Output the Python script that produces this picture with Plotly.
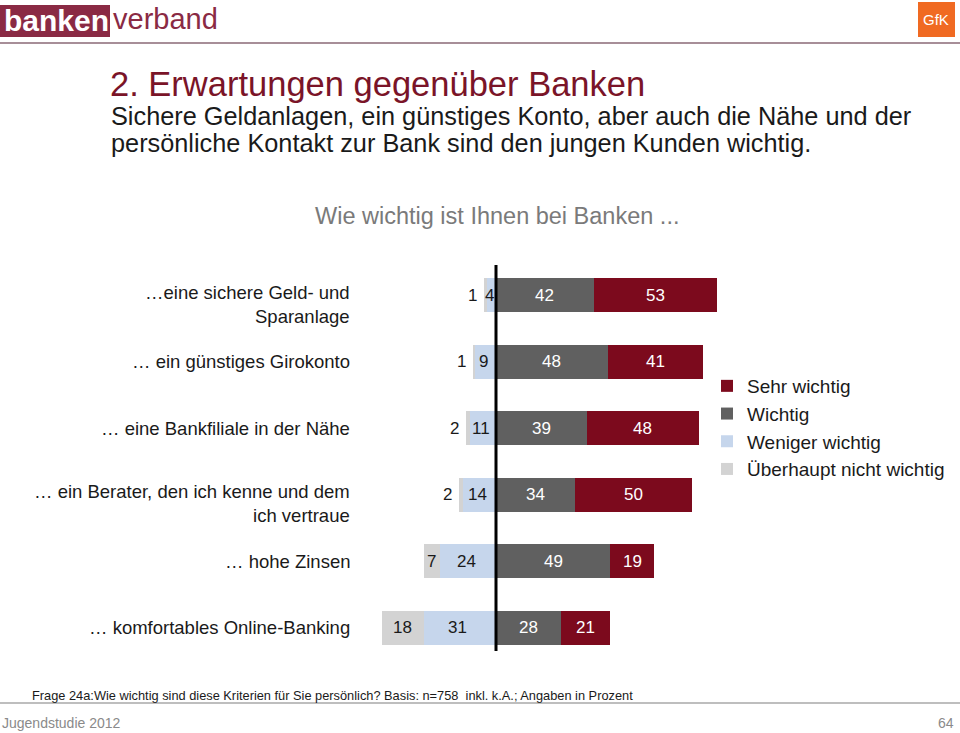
import plotly.graph_objects as go

# ---------------- data ----------------
categories = [
    "…eine sichere Geld- und<br>Sparanlage",
    "… ein günstiges Girokonto",
    "… eine Bankfiliale in der Nähe",
    "… ein Berater, den ich kenne und dem<br>ich vertraue",
    "… hohe Zinsen",
    "… komfortables Online-Banking",
]
ueberhaupt_nicht = [1, 1, 2, 2, 7, 18]
weniger_wichtig = [4, 9, 11, 14, 24, 31]
wichtig = [42, 48, 39, 34, 49, 28]
sehr_wichtig = [53, 41, 48, 50, 19, 21]
series_names = ["Sehr wichtig", "Wichtig", "Weniger wichtig", "Überhaupt nicht wichtig"]

# ---------------- style ----------------
W, H = 960, 733
FONT = "Liberation Sans"
C_SEHR = "#7c0a1d"
C_WICHTIG = "#606060"
C_WENIGER = "#c6d6ec"
C_UEBER = "#d3d3d3"
C_BRAND = "#8a2a44"

center_px = 496.0
px_per_unit = 2.33
row0_py = 295.0
row_step = 66.54


def px(x):
    return x / W


def py(y):
    return 1 - y / H


fig = go.Figure()

neg_w = [-v for v in weniger_wichtig]
neg_u = [-v for v in ueberhaupt_nicht]

fig.add_trace(go.Bar(y=categories, x=neg_w, orientation="h", name=series_names[2],
                     marker=dict(color=C_WENIGER, line=dict(width=0)), width=0.51,
                     legendrank=3, hoverinfo="skip"))
fig.add_trace(go.Bar(y=categories, x=neg_u, orientation="h", name=series_names[3],
                     marker=dict(color=C_UEBER, line=dict(width=0)), width=0.51,
                     legendrank=4, hoverinfo="skip"))
fig.add_trace(go.Bar(y=categories, x=wichtig, orientation="h", name=series_names[1],
                     marker=dict(color=C_WICHTIG, line=dict(width=0)), width=0.51,
                     legendrank=2, hoverinfo="skip"))
fig.add_trace(go.Bar(y=categories, x=sehr_wichtig, orientation="h", name=series_names[0],
                     marker=dict(color=C_SEHR, line=dict(width=0)), width=0.51,
                     legendrank=1, hoverinfo="skip"))

ann = []
lab_font = dict(family=FONT, size=17)
for i, cat in enumerate(categories):
    w, u, wi, s = weniger_wichtig[i], ueberhaupt_nicht[i], wichtig[i], sehr_wichtig[i]
    ann.append(dict(x=wi / 2, y=cat, xref="x", yref="y", text=str(wi), showarrow=False,
                    font=dict(lab_font, color="white")))
    ann.append(dict(x=wi + s / 2, y=cat, xref="x", yref="y", text=str(s), showarrow=False,
                    font=dict(lab_font, color="white")))
    ann.append(dict(x=-w / 2, y=cat, xref="x", yref="y", text=str(w), showarrow=False,
                    xshift=-2, font=dict(lab_font, color="#1a1a1a")))
    if u < 4:
        ann.append(dict(x=-(w + u), y=cat, xref="x", yref="y", text=str(u), showarrow=False,
                        xanchor="right", xshift=-5, font=dict(lab_font, color="#1a1a1a")))
    else:
        ann.append(dict(x=-(w + u / 2), y=cat, xref="x", yref="y", text=str(u), showarrow=False,
                        font=dict(lab_font, color="#1a1a1a")))
    yshift = -9 if "<br>" in cat else 0
    ann.append(dict(x=px(352), y=cat, xref="paper", yref="y", text=cat, showarrow=False,
                    xanchor="right", align="right", yshift=yshift,
                    font=dict(family=FONT, size=18.5, color="#1a1a1a")))

ann += [
    dict(x=px(2), y=py(21), xref="paper", yref="paper", text="<b>banken</b>", showarrow=False,
         xanchor="left", yanchor="middle", font=dict(family=FONT, size=30, color="white")),
    dict(x=px(111), y=py(19), xref="paper", yref="paper", text="verband", showarrow=False,
         xanchor="left", yanchor="middle", font=dict(family=FONT, size=29, color=C_BRAND)),
    dict(x=px(936), y=py(20), xref="paper", yref="paper", text="GfK", showarrow=False,
         xanchor="center", yanchor="middle", font=dict(family=FONT, size=15, color="white")),
    dict(x=px(108), y=py(84), xref="paper", yref="paper", text="2. Erwartungen gegenüber Banken",
         showarrow=False, xanchor="left", yanchor="middle",
         font=dict(family=FONT, size=34.5, color="#7a1428")),
    dict(x=px(109), y=py(116), xref="paper", yref="paper",
         text="Sichere Geldanlagen, ein günstiges Konto, aber auch die Nähe und der",
         showarrow=False, xanchor="left", yanchor="middle",
         font=dict(family=FONT, size=25.3, color="#1a1a1a")),
    dict(x=px(109), y=py(143), xref="paper", yref="paper",
         text="persönliche Kontakt zur Bank sind den jungen Kunden wichtig.",
         showarrow=False, xanchor="left", yanchor="middle",
         font=dict(family=FONT, size=25.3, color="#1a1a1a")),
    dict(x=px(497), y=py(216), xref="paper", yref="paper", text="Wie wichtig ist Ihnen bei Banken ...",
         showarrow=False, xanchor="center", yanchor="middle",
         font=dict(family=FONT, size=23.5, color="#7a7a7a")),
    dict(x=px(30), y=py(695), xref="paper", yref="paper",
         text="Frage 24a:Wie wichtig sind diese Kriterien für Sie persönlich? Basis: n=758  inkl. k.A.; Angaben in Prozent",
         showarrow=False, xanchor="left", yanchor="middle",
         font=dict(family=FONT, size=12.8, color="#1a1a1a")),
    dict(x=px(0), y=py(723), xref="paper", yref="paper", text="Jugendstudie 2012",
         showarrow=False, xanchor="left", yanchor="middle",
         font=dict(family=FONT, size=14, color="#8a8a8a")),
    dict(x=px(956), y=py(723), xref="paper", yref="paper", text="64",
         showarrow=False, xanchor="right", yanchor="middle",
         font=dict(family=FONT, size=14, color="#8a8a8a")),
]

shapes = [
    dict(type="rect", xref="paper", yref="paper", x0=px(0), x1=px(110), y0=py(37), y1=py(5),
         fillcolor=C_BRAND, line=dict(width=0), layer="below"),
    dict(type="rect", xref="paper", yref="paper", x0=px(918), x1=px(955), y0=py(37), y1=py(2),
         fillcolor="#f06a22", line=dict(width=0), layer="below"),
    dict(type="line", xref="paper", yref="paper", x0=0, x1=1, y0=py(43), y1=py(43),
         line=dict(color="#a78e98", width=2)),
    dict(type="line", xref="paper", yref="paper", x0=0, x1=1, y0=py(703), y1=py(703),
         line=dict(color="#a8a8a8", width=1.5)),
    dict(type="line", xref="x", yref="paper", x0=0, x1=0, y0=py(265), y1=py(651),
         line=dict(color="black", width=3), layer="above"),
]

x_lo = -center_px / px_per_unit
x_hi = (W - center_px) / px_per_unit
y_top = -row0_py / row_step
y_bot = (H - row0_py) / row_step

fig.update_layout(
    width=W, height=H,
    margin=dict(l=0, r=0, t=0, b=0),
    paper_bgcolor="white", plot_bgcolor="white",
    barmode="relative", bargap=0,
    xaxis=dict(domain=[0, 1], range=[x_lo, x_hi], visible=False, fixedrange=True),
    yaxis=dict(domain=[0, 1], type="category", categoryorder="array", categoryarray=categories,
               range=[y_bot, y_top], visible=False, fixedrange=True),
    showlegend=True,
    legend=dict(x=px(707), y=py(367), xanchor="left", yanchor="top",
                font=dict(family=FONT, size=19, color="#1a1a1a"),
                traceorder="normal", itemwidth=30, bgcolor="rgba(0,0,0,0)",
                tracegroupgap=0),
    annotations=ann,
    shapes=shapes,
    font=dict(family=FONT),
)

fig.write_html("out.html", config={"displayModeBar": False, "staticPlot": True},
               post_script="document.body.style.margin='0';document.body.style.overflow='hidden';")
